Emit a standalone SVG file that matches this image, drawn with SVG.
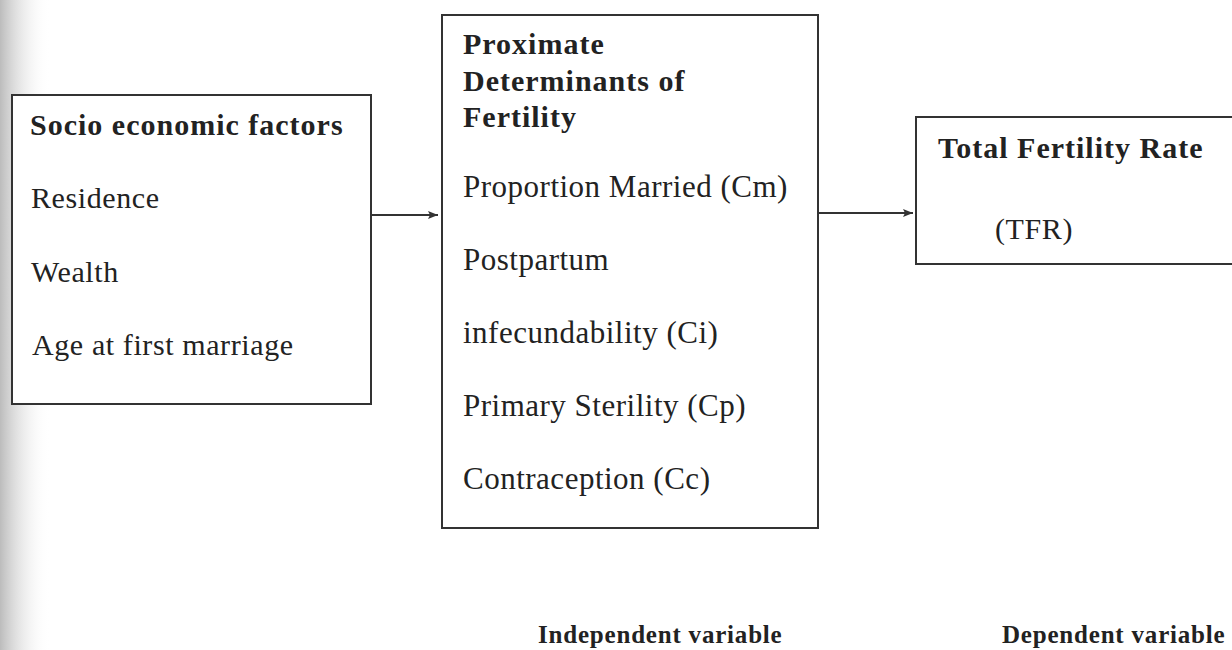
<svg xmlns="http://www.w3.org/2000/svg" width="1232" height="650" viewBox="0 0 1232 650">
  <style>
    .box { fill: #ffffff; stroke: #333333; stroke-width: 2; }
    .t { font-family: "Liberation Serif", "Times New Roman", serif; font-size: 30px; fill: #222222; letter-spacing: 0.6px; }
    .m { font-size: 31px; letter-spacing: 0.5px; }
    .b { font-weight: bold; letter-spacing: 1px; }
    .lbl { font-size: 25px; letter-spacing: 0.8px; }
    .edge { stroke: #333333; stroke-width: 2; fill: none; }
  </style>
  <defs>
    <linearGradient id="scan" x1="0" y1="0" x2="1" y2="0">
      <stop offset="0" stop-color="#bcbcbc" stop-opacity="1"/>
      <stop offset="1" stop-color="#ffffff" stop-opacity="0"/>
    </linearGradient>
    <marker id="arr" viewBox="0 0 10 10" refX="10" refY="5" markerWidth="10" markerHeight="10" markerUnits="userSpaceOnUse" orient="auto">
      <path d="M0,1 L10,5 L0,9 L2,5 Z" fill="#333333"/>
    </marker>
  </defs>
  <rect x="0" y="0" width="1232" height="650" fill="#ffffff"/>
  <rect x="0" y="0" width="50" height="650" fill="url(#scan)"/>

  <g id="connectors">
    <line class="edge" x1="371" y1="215" x2="438" y2="215" marker-end="url(#arr)"/>
    <line class="edge" x1="818" y1="213" x2="913" y2="213" marker-end="url(#arr)"/>
  </g>

  <g id="socio">
    <rect class="box" x="12" y="95" width="359" height="309"/>
    <text class="t b" x="30" y="135">Socio economic factors</text>
    <text class="t" x="31" y="208">Residence</text>
    <text class="t" x="31" y="282">Wealth</text>
    <text class="t" x="32" y="355">Age at first marriage</text>
  </g>

  <g id="proximate">
    <rect class="box" x="442" y="15" width="376" height="513"/>
    <text class="t b" x="463" y="54">Proximate</text>
    <text class="t b" x="463" y="91">Determinants of</text>
    <text class="t b" x="463" y="127">Fertility</text>
    <text class="t m" x="463" y="197">Proportion Married (Cm)</text>
    <text class="t m" x="463" y="270">Postpartum</text>
    <text class="t m" x="463" y="343">infecundability (Ci)</text>
    <text class="t m" x="463" y="416">Primary Sterility (Cp)</text>
    <text class="t m" x="463" y="489">Contraception (Cc)</text>
  </g>

  <g id="tfr">
    <rect class="box" x="916" y="117" width="330" height="147"/>
    <text class="t b" x="938" y="158">Total Fertility Rate</text>
    <text class="t" x="995" y="239">(TFR)</text>
  </g>

  <g id="labels">
    <text class="t b lbl" x="538" y="643">Independent variable</text>
    <text class="t b lbl" x="1002" y="643">Dependent variable</text>
  </g>
</svg>
